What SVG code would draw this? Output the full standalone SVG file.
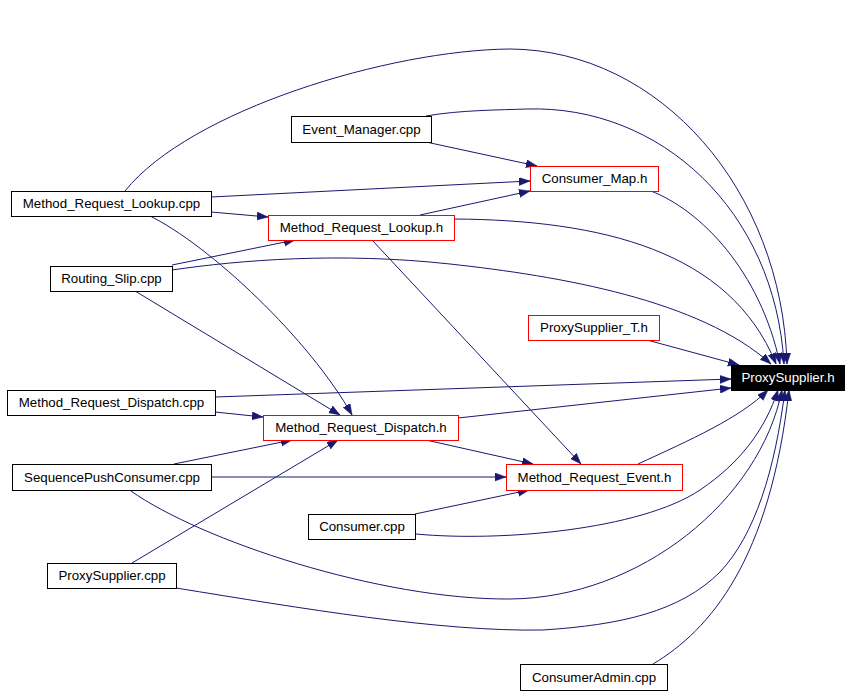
<svg xmlns="http://www.w3.org/2000/svg" width="851" height="695" viewBox="0 0 851 695">
<style>
.n rect{fill:#fff;stroke:#000;stroke-width:1}
.n.r rect{stroke:#ff0000}
.n text{font-family:"Liberation Sans",Arial,sans-serif;font-size:13.3px;text-anchor:middle;fill:#000}
#n_ps_h rect{fill:#000;stroke:#000}
#n_ps_h text{fill:#fff}
#edges path{fill:none;stroke:#191970;stroke-width:1;marker-end:url(#arr)}
</style>
<defs>
<marker id="arr" markerUnits="userSpaceOnUse" markerWidth="12" markerHeight="9" refX="11" refY="4" orient="auto">
<path d="M0,0 L11,4 L0,8 z" fill="#191970" stroke="#191970" stroke-width="0.5"/>
</marker>
</defs>
<rect width="851" height="695" fill="#fff"/>
<g id="edges">
<path d="M125,191 C190,110 390,50 510,49 C660,50 782,190 787,364"/>
<path d="M426,116 C460,110 500,110 527,109 C660,105 775,210 784,364"/>
<path d="M426,142 L537,166"/>
<path d="M211,197 L530,181"/>
<path d="M211,212 L268,217"/>
<path d="M148,215 C210,245 310,340 352,415"/>
<path d="M420,215 L530,191"/>
<path d="M454,219 C600,220 730,250 776,364"/>
<path d="M372,240 L581,464"/>
<path d="M172,265 L295,240"/>
<path d="M172,270 C240,260 340,252 450,264 C560,276 700,300 771,364"/>
<path d="M135,291 L340,415"/>
<path d="M651,191 C700,210 760,270 780,364"/>
<path d="M647,340 L739,365"/>
<path d="M215,397 L731,379"/>
<path d="M215,412 L263,417"/>
<path d="M458,418 L731,388"/>
<path d="M426,440 L533,464"/>
<path d="M174,464 L292,440"/>
<path d="M211,477 L506,477"/>
<path d="M131,491 C200,540 380,600 510,599 C640,598 760,500 782,390"/>
<path d="M415,514 L529,490"/>
<path d="M416,534 C500,542 640,530 700,490 C740,463 765,430 778,390"/>
<path d="M132,563 L338,440"/>
<path d="M176,588 C300,608 440,632 543,630 C620,625 680,612 720,572 C755,535 775,470 785,390"/>
<path d="M653,664 C710,630 770,560 789,390"/>
<path d="M638,464 C690,440 740,418 768,390"/>
</g>
<g id="n_ps_h" class="n"><rect x="731.5" y="365.5" width="113" height="25"/><text x="788" y="382">ProxySupplier.h</text></g>
<g id="n_event_manager_cpp" class="n"><rect x="291.5" y="116.5" width="140" height="26"/><text x="361.5" y="134">Event_Manager.cpp</text></g>
<g id="n_consumer_map_h" class="n r"><rect x="530.5" y="166.5" width="128" height="25"/><text x="594.5" y="183">Consumer_Map.h</text></g>
<g id="n_mrl_cpp" class="n"><rect x="11.5" y="191.5" width="200" height="25"/><text x="111.5" y="208">Method_Request_Lookup.cpp</text></g>
<g id="n_mrl_h" class="n r"><rect x="268.5" y="215.5" width="186" height="25"/><text x="361.5" y="232">Method_Request_Lookup.h</text></g>
<g id="n_routing_slip_cpp" class="n"><rect x="50.5" y="266.5" width="122" height="25"/><text x="111.5" y="283">Routing_Slip.cpp</text></g>
<g id="n_ps_t_h" class="n r"><rect x="528.5" y="315.5" width="131" height="25"/><text x="594" y="332">ProxySupplier_T.h</text></g>
<g id="n_mrd_cpp" class="n"><rect x="7.5" y="390.5" width="208" height="25"/><text x="111.5" y="407">Method_Request_Dispatch.cpp</text></g>
<g id="n_mrd_h" class="n r"><rect x="263.5" y="415.5" width="195" height="25"/><text x="361" y="432">Method_Request_Dispatch.h</text></g>
<g id="n_spc_cpp" class="n"><rect x="12.5" y="464.5" width="199" height="26"/><text x="112" y="482">SequencePushConsumer.cpp</text></g>
<g id="n_mre_h" class="n r"><rect x="506.5" y="464.5" width="176" height="26"/><text x="594.5" y="482">Method_Request_Event.h</text></g>
<g id="n_consumer_cpp" class="n"><rect x="308.5" y="514.5" width="107" height="25"/><text x="362" y="531">Consumer.cpp</text></g>
<g id="n_ps_cpp" class="n"><rect x="47.5" y="563.5" width="129" height="25"/><text x="112" y="580">ProxySupplier.cpp</text></g>
<g id="n_consumeradmin_cpp" class="n"><rect x="520.5" y="664.5" width="147" height="26"/><text x="594" y="682">ConsumerAdmin.cpp</text></g>
</svg>
